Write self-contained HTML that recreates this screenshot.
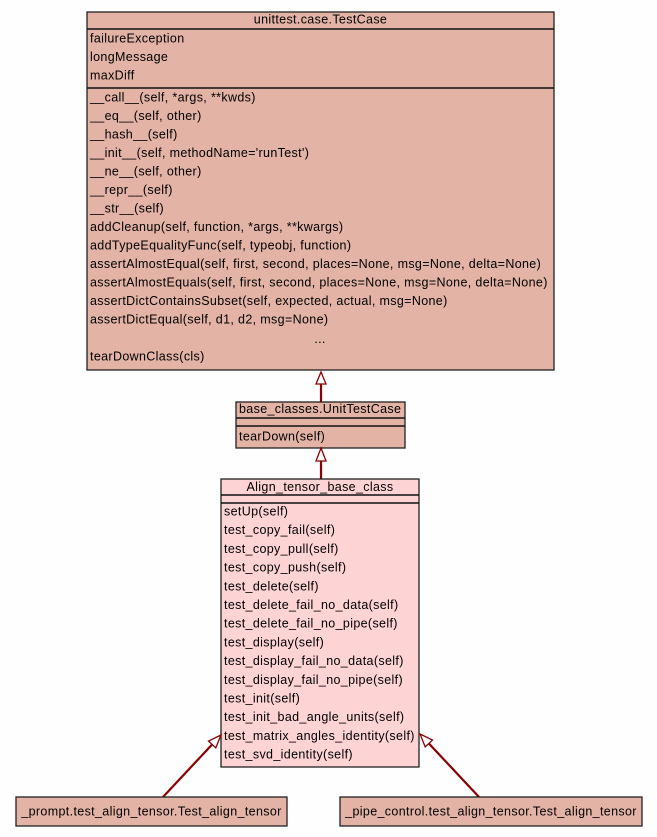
<!DOCTYPE html>
<html>
<head>
<meta charset="utf-8">
<style>
  html, body { margin:0; padding:0; background:#fdfefd; }
  svg { display:block; }
  text { font-family: "Liberation Sans", Arial, sans-serif; font-size:12.5px; letter-spacing:0.35px; fill:#000; }
</style>
</head>
<body>
<svg width="657" height="837" viewBox="0 0 657 837" xmlns="http://www.w3.org/2000/svg">
  <rect x="0" y="0" width="657" height="837" fill="#fdfefd"/>

  <!-- unittest.case.TestCase -->
  <rect x="87" y="12" width="467" height="358" fill="#e3b3a5" stroke="#222" stroke-width="1.3"/>
  <line x1="87" y1="29" x2="554" y2="29" stroke="#111" stroke-width="1.6"/>
  <line x1="87" y1="88" x2="554" y2="88" stroke="#111" stroke-width="1.6"/>
  <text x="320.5" y="23.5" text-anchor="middle">unittest.case.TestCase</text>
  <text x="90" y="42.7">failureException</text>
  <text x="90" y="61.2">longMessage</text>
  <text x="90" y="79.7">maxDiff</text>
  <text x="90" y="101.5">__call__(self, *args, **kwds)</text>
  <text x="90" y="120">__eq__(self, other)</text>
  <text x="90" y="138.5">__hash__(self)</text>
  <text x="90" y="157">__init__(self, methodName='runTest')</text>
  <text x="90" y="175.5">__ne__(self, other)</text>
  <text x="90" y="194">__repr__(self)</text>
  <text x="90" y="212.5">__str__(self)</text>
  <text x="90" y="231">addCleanup(self, function, *args, **kwargs)</text>
  <text x="90" y="249.5">addTypeEqualityFunc(self, typeobj, function)</text>
  <text x="90" y="268">assertAlmostEqual(self, first, second, places=None, msg=None, delta=None)</text>
  <text x="90" y="286.5">assertAlmostEquals(self, first, second, places=None, msg=None, delta=None)</text>
  <text x="90" y="305">assertDictContainsSubset(self, expected, actual, msg=None)</text>
  <text x="90" y="323.5">assertDictEqual(self, d1, d2, msg=None)</text>
  <text x="320" y="343" text-anchor="middle">...</text>
  <text x="90" y="360.5">tearDownClass(cls)</text>

  <!-- edge TestCase <- UnitTestCase -->
  <line x1="321" y1="384" x2="321" y2="402" stroke="#8b0000" stroke-width="2.2"/>
  <polygon points="321,372 326,384 316,384" fill="#fff" stroke="#8b0000" stroke-width="1.3"/>

  <!-- base_classes.UnitTestCase -->
  <rect x="236" y="402" width="169" height="46" fill="#e3b3a5" stroke="#222" stroke-width="1.3"/>
  <line x1="236" y1="418" x2="405" y2="418" stroke="#111" stroke-width="1.6"/>
  <line x1="236" y1="426" x2="405" y2="426" stroke="#111" stroke-width="1.6"/>
  <text x="239" y="413">base_classes.UnitTestCase</text>
  <text x="239" y="440.5">tearDown(self)</text>

  <!-- edge UnitTestCase <- Align -->
  <line x1="321" y1="461" x2="321" y2="479" stroke="#8b0000" stroke-width="2.2"/>
  <polygon points="321,448 326,461 316,461" fill="#fff" stroke="#8b0000" stroke-width="1.3"/>

  <!-- Align_tensor_base_class -->
  <rect x="221" y="479" width="198" height="288" fill="#fed3d3" stroke="#222" stroke-width="1.3"/>
  <line x1="221" y1="495" x2="419" y2="495" stroke="#111" stroke-width="1.6"/>
  <line x1="221" y1="503" x2="419" y2="503" stroke="#111" stroke-width="1.6"/>
  <text x="320" y="491" text-anchor="middle">Align_tensor_base_class</text>
  <text x="224" y="515.5">setUp(self)</text>
  <text x="224" y="534.2">test_copy_fail(self)</text>
  <text x="224" y="552.9">test_copy_pull(self)</text>
  <text x="224" y="571.6">test_copy_push(self)</text>
  <text x="224" y="590.3">test_delete(self)</text>
  <text x="224" y="609">test_delete_fail_no_data(self)</text>
  <text x="224" y="627.7">test_delete_fail_no_pipe(self)</text>
  <text x="224" y="646.4">test_display(self)</text>
  <text x="224" y="665.1">test_display_fail_no_data(self)</text>
  <text x="224" y="683.8">test_display_fail_no_pipe(self)</text>
  <text x="224" y="702.5">test_init(self)</text>
  <text x="224" y="721.2">test_init_bad_angle_units(self)</text>
  <text x="224" y="739.9">test_matrix_angles_identity(self)</text>
  <text x="224" y="758.6">test_svd_identity(self)</text>

  <!-- diagonal edges -->
  <line x1="163" y1="797" x2="212.1" y2="744.5" stroke="#8b0000" stroke-width="2.2"/>
  <polygon points="221,735 215.8,747.9 208.5,741.1" fill="#fff" stroke="#8b0000" stroke-width="1.3"/>
  <line x1="479" y1="797" x2="428.9" y2="743.5" stroke="#8b0000" stroke-width="2.2"/>
  <polygon points="420,734 432.5,740.1 425.2,746.9" fill="#fff" stroke="#8b0000" stroke-width="1.3"/>

  <!-- bottom boxes -->
  <rect x="16" y="797" width="271" height="29" fill="#e3b3a5" stroke="#222" stroke-width="1.3"/>
  <text x="151.5" y="815.5" text-anchor="middle">_prompt.test_align_tensor.Test_align_tensor</text>
  <rect x="340" y="797" width="302" height="29" fill="#e3b3a5" stroke="#222" stroke-width="1.3"/>
  <text x="491" y="815.5" text-anchor="middle">_pipe_control.test_align_tensor.Test_align_tensor</text>
</svg>
</body>
</html>
